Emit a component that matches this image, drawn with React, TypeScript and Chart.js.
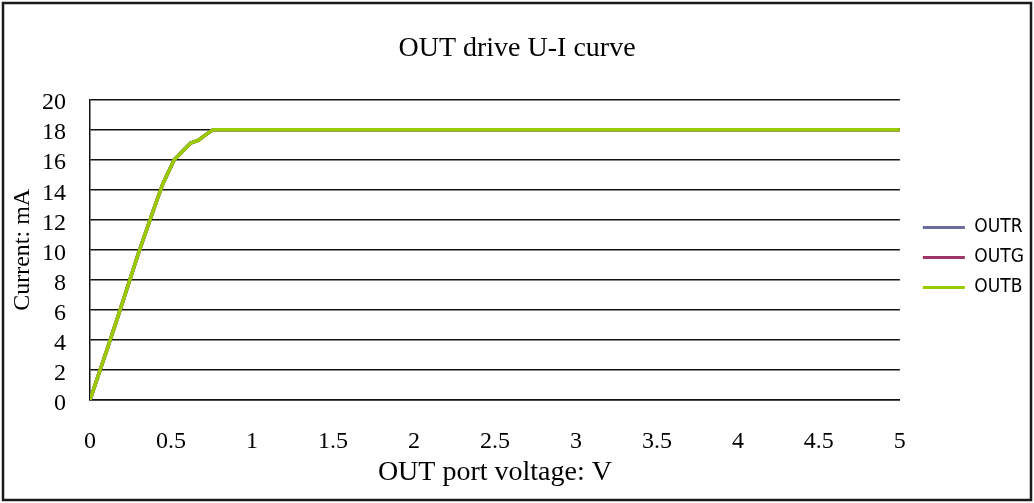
import React, { useEffect, useRef } from 'react';
import { Chart, registerables } from 'chart.js';

Chart.register(...registerables);

const chartTitle = 'OUT drive U-I curve';
const xAxisTitle = 'OUT port voltage: V';
const yAxisTitle = 'Current: mA';
const seriesNames = ['OUTR', 'OUTG', 'OUTB'];
const seriesColors = ['#6C6C9E', '#9E3468', '#99CC00'];

const voltage = [0, 0.1, 0.18, 0.3, 0.4, 0.45, 0.52, 0.62, 0.67, 0.72, 0.76, 0.8, 1, 1.5, 2, 2.5, 3, 3.5, 4, 4.5, 5];
const outR = [0, 3.2, 5.8, 9.8, 12.9, 14.4, 16.0, 17.1, 17.3, 17.7, 18, 18, 18, 18, 18, 18, 18, 18, 18, 18, 18];
const outG = [0, 3.2, 5.8, 9.8, 12.9, 14.4, 16.0, 17.1, 17.3, 17.7, 18, 18, 18, 18, 18, 18, 18, 18, 18, 18, 18];
const outB = [0, 3.2, 5.8, 9.8, 12.9, 14.4, 16.0, 17.1, 17.3, 17.7, 18, 18, 18, 18, 18, 18, 18, 18, 18, 18, 18];

const xMin = 0, xMax = 5, xStep = 0.5;
const yMin = 0, yMax = 20, yStep = 2;

const frame = {
  id: 'frame',
  afterDraw(chart: any) {
    const ctx = chart.ctx;
    ctx.save();
    ctx.strokeStyle = '#1a1a1a';
    ctx.lineWidth = 2.5;
    ctx.strokeRect(3, 3, chart.width - 6, chart.height - 6);
    ctx.restore();
  },
};

export default function App() {
  const ref = useRef<HTMLCanvasElement | null>(null);
  useEffect(() => {
    document.body.style.margin = '0';
    const serif = '"Liberation Serif", "Times New Roman", serif';
    const all = [outR, outG, outB];
    const chart = new Chart(ref.current as HTMLCanvasElement, {
      type: 'line',
      data: {
        datasets: all.map((vals, i) => ({
          label: seriesNames[i],
          data: voltage.map((v, j) => ({ x: v, y: vals[j] })),
          borderColor: seriesColors[i],
          backgroundColor: seriesColors[i],
          borderWidth: 3.5,
          pointRadius: 0,
          tension: 0,
          order: 3 - i,
        })),
      },
      options: {
        responsive: false,
        animation: false,
        layout: { padding: { left: 0, right: 0, top: 0, bottom: 0 } },
        plugins: {
          title: {
            display: true,
            text: chartTitle,
            color: '#000',
            font: { family: serif, size: 28, weight: 'normal' },
            padding: { top: 32, bottom: 34 },
          },
          legend: {
            display: true,
            position: 'right',
            align: 'center',
            title: { display: true, text: ' ', font: { size: 5 }, padding: 3 },
            labels: {
              boxWidth: 42,
              boxHeight: 3,
              padding: 11,
              color: '#000',
              font: { family: '"Liberation Sans Narrow", "DejaVu Sans Condensed", sans-serif', size: 19 },
              sort: (a: any, b: any) => a.datasetIndex - b.datasetIndex,
              generateLabels: (c: any) =>
                Chart.defaults.plugins.legend.labels.generateLabels(c).map((l: any) => ({ ...l, lineWidth: 0 })),
            },
          },
          tooltip: { enabled: false },
        },
        scales: {
          x: {
            type: 'linear',
            min: xMin,
            max: xMax,
            ticks: {
              stepSize: xStep,
              autoSkip: false,
              maxRotation: 0,
              color: '#000',
              font: { family: serif, size: 24 },
              padding: 27,
              callback: (v: any) => String(Number(v)),
            },
            grid: { display: false, drawTicks: false },
            border: { display: true, color: '#111', width: 1.5 },
            title: {
              display: true,
              text: xAxisTitle,
              color: '#000',
              font: { family: serif, size: 28 },
              padding: { top: 0, bottom: 14 },
            },
            afterFit: (s: any) => { s.height = 103; },
          },
          y: {
            type: 'linear',
            min: yMin,
            max: yMax,
            ticks: {
              stepSize: yStep,
              autoSkip: false,
              color: '#000',
              font: { family: serif, size: 24 },
              padding: 24,
              labelOffset: 3.5,
              callback: (v: any) => String(Number(v)),
            },
            grid: { color: '#111', lineWidth: 1.5, drawTicks: false },
            border: { display: true, color: '#111', width: 1.5 },
            title: {
              display: true,
              text: yAxisTitle,
              color: '#000',
              font: { family: serif, size: 24 },
              padding: { top: 8, bottom: 0 },
            },
            afterFit: (s: any) => { s.width = 90; },
          },
          gap: {
            type: 'linear',
            position: 'right',
            display: true,
            ticks: { display: false },
            grid: { display: false, drawTicks: false },
            border: { display: false },
            afterFit: (s: any) => { s.width = 12; },
          },
        },
      },
      plugins: [frame],
    } as any);
    return () => chart.destroy();
  }, []);
  return (
    <div style={{ width: 1034, height: 503 }}>
      <canvas ref={ref} width={1034} height={503} />
    </div>
  );
}
